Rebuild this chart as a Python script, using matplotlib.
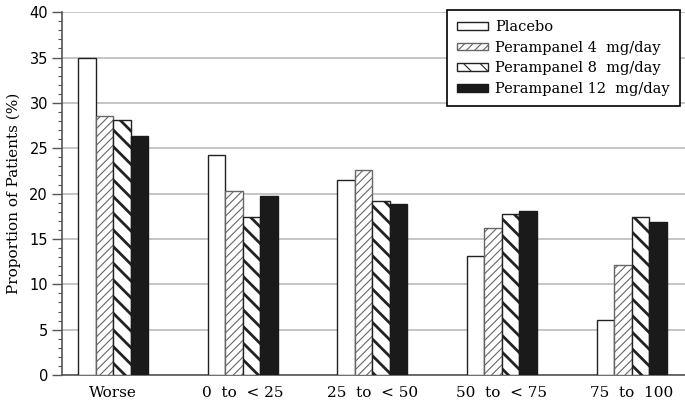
import matplotlib
matplotlib.use("Agg")
import matplotlib.pyplot as plt
import numpy as np

categories = ["Worse", "0  to  < 25", "25  to  < 50", "50  to  < 75", "75  to  100"]
series_names = ["Placebo", "Perampanel 4  mg/day", "Perampanel 8  mg/day", "Perampanel 12  mg/day"]
placebo = [35.0, 24.3, 21.5, 13.1, 6.1]
p4 = [28.5, 20.3, 22.6, 16.2, 12.1]
p8 = [28.1, 17.4, 19.2, 17.8, 17.4]
p12 = [26.4, 19.7, 18.9, 18.1, 16.9]
yticks = [0, 5, 10, 15, 20, 25, 30, 35, 40]

plt.rcParams['font.family'] = ['DejaVu Serif']
plt.rcParams['hatch.linewidth'] = 0.8

fig = plt.figure(figsize=(6.85, 4.05), dpi=100)
ax = fig.add_axes([0.0905, 0.074, 0.909, 0.896])

x = np.arange(len(categories))
w = 0.135
styles = [
    dict(facecolor='white', edgecolor='#222222', hatch=None, hlw=0.8),
    dict(facecolor='white', edgecolor='#666666', hatch='////', hlw=0.8),
    dict(facecolor='white', edgecolor='#222222', hatch='\\\\', hlw=2.0),
    dict(facecolor='#1a1a1a', edgecolor='#1a1a1a', hatch=None, hlw=0.8),
]
data = [placebo, p4, p8, p12]
for i, (vals, st, name) in enumerate(zip(data, styles, series_names)):
    bars = ax.bar(x + (i - 1.5) * w, vals, width=w, facecolor=st['facecolor'],
                  edgecolor=st['edgecolor'], hatch=st['hatch'], linewidth=1.0,
                  label=name, zorder=3)
    for b in bars:
        try:
            b.set_hatch_linewidth(st['hlw'])
        except Exception:
            pass

ax.set_xlim(-0.394, 4.41)
ax.set_ylim(0, 40)
ax.set_yticks(yticks)
ax.set_yticks(np.arange(0, 41, 1), minor=True)
ax.yaxis.grid(True, color='#b5b5b5', linewidth=1.1, zorder=0)
ax.set_axisbelow(True)
ax.set_xticks(x)
ax.set_xticklabels(categories, fontsize=11)
ax.tick_params(axis='x', length=0, pad=8)
ax.tick_params(axis='y', which='major', length=7, width=1, color='#555555', labelsize=10.5, pad=3)
ax.tick_params(axis='y', which='minor', length=3, width=0.8, color='#555555')
for lab in ax.get_yticklabels():
    lab.set_fontfamily('DejaVu Sans')
ax.spines['top'].set_visible(False)
ax.spines['right'].set_visible(False)
ax.spines['left'].set_color('#555555')
ax.spines['bottom'].set_color('#555555')
ax.spines['left'].set_linewidth(1.2)
ax.spines['bottom'].set_linewidth(1.2)
ax.set_ylabel("Proportion of Patients (%)", fontsize=11, labelpad=6)

leg = ax.legend(loc='upper right', bbox_to_anchor=(0.9925, 1.006), fontsize=10.5,
                frameon=True, fancybox=False, edgecolor='black', framealpha=1,
                handlelength=2.1, handleheight=0.45, handletextpad=0.5,
                labelspacing=0.45, borderpad=0.7, borderaxespad=0.0)
leg.get_frame().set_linewidth(1.2)

fig.savefig("out.png", dpi=100)
